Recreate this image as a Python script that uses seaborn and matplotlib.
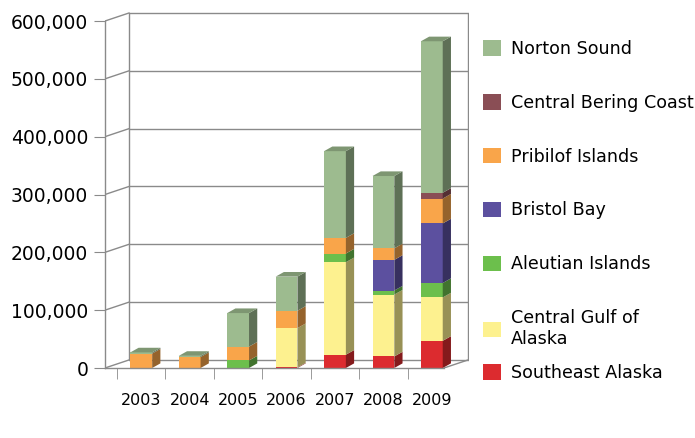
import numpy as np
import pandas as pd
import matplotlib
matplotlib.use("Agg")
import matplotlib.pyplot as plt
import matplotlib.colors as mcolors
from matplotlib.patches import Patch
from matplotlib.ticker import FuncFormatter
import seaborn as sns

# data (values per year, bottom to top of each stack)
years = ["2003", "2004", "2005", "2006", "2007", "2008", "2009"]
series = ["Southeast Alaska", "Central Gulf of Alaska", "Aleutian Islands", "Bristol Bay",
          "Pribilof Islands", "Central Bering Coast", "Norton Sound"]
southeast_alaska = [0, 0, 0, 1000, 23000, 20000, 47000]
central_gulf = [0, 0, 0, 68000, 160000, 107000, 75000]
aleutian_islands = [0, 0, 13000, 0, 15000, 7000, 25000]
bristol_bay = [0, 0, 0, 0, 0, 53000, 103000]
pribilof_islands = [25000, 19000, 24000, 30000, 27000, 20000, 43000]
central_bering = [0, 0, 0, 0, 0, 0, 10000]
norton_sound = [2000, 2000, 58000, 59000, 150000, 125000, 262000]
legend_labels = ["Norton Sound", "Central Bering Coast", "Pribilof Islands", "Bristol Bay",
                 "Aleutian Islands", "Central Gulf of\nAlaska", "Southeast Alaska"]

values = [southeast_alaska, central_gulf, aleutian_islands, bristol_bay,
          pribilof_islands, central_bering, norton_sound]
colors = ["#DC2B2F", "#FDF18F", "#6CBF4C", "#5C509F", "#F9A54A", "#8A4E55", "#9DBB8F"]

rows = []
for name, vals in zip(series, values):
    for y, v in zip(years, vals):
        rows.append({"year": y, "series": name, "value": v})
df = pd.DataFrame(rows)
df["bottom"] = df.groupby("year")["value"].cumsum() - df["value"]
df["top"] = df["bottom"] + df["value"]

# geometry of the fake 3d look
bar_w = 0.45
dx, dy = 0.17, 8000        # bar depth
wx, wy = 0.5, 14000        # wall depth
x_left, x_right = -0.75, 6.75

fig = plt.figure(figsize=(6.95, 4.38), dpi=100)
ax = fig.add_axes([0.151, 0.1598, 0.524, 0.812])
sns.set_style("white")
plt.rcParams["font.family"] = ["DejaVu Sans"]

grid_col = "#8a8a8a"
ticks = np.arange(0, 600001, 100000)

# walls and gridlines
for t in ticks:
    ax.plot([x_left + wx, x_right], [t + wy, t + wy], color=grid_col, lw=1, zorder=0.5)
    ax.plot([x_left, x_left + wx], [t, t + wy], color=grid_col, lw=1, zorder=0.5)
ax.plot([x_left + wx, x_left + wx], [wy, 600000 + wy], color=grid_col, lw=1, zorder=0.5)
ax.plot([x_right, x_right], [wy, 600000 + wy], color=grid_col, lw=1, zorder=0.5)
ax.plot([x_right - wx, x_right], [0, wy], color=grid_col, lw=1, zorder=0.5)

# stacked bars: draw cumulative heights from the top series down
for name, col in reversed(list(zip(series, colors))):
    sub = df[df["series"] == name]
    sns.barplot(data=sub, x="year", y="top", order=years, color=col, saturation=1,
                width=bar_w, errorbar=None, linewidth=0, ax=ax, zorder=1)

# side and top faces
for i, y in enumerate(years):
    sub = df[(df["year"] == y) & (df["value"] > 0)]
    for _, r in sub.iterrows():
        col = np.array(mcolors.to_rgb(colors[series.index(r["series"])]))
        xr = i + bar_w / 2
        ax.fill([xr, xr + dx, xr + dx, xr], [r["bottom"], r["bottom"] + dy, r["top"] + dy, r["top"]],
                color=col * 0.6, lw=0, zorder=1.5)
    if len(sub):
        r = sub.iloc[-1]
        col = np.array(mcolors.to_rgb(colors[series.index(r["series"])]))
        xl = i - bar_w / 2
        xr = i + bar_w / 2
        ax.fill([xl, xr, xr + dx, xl + dx], [r["top"], r["top"], r["top"] + dy, r["top"] + dy],
                color=col * 0.8, lw=0, zorder=1.5)

ax.set_xlim(x_left, x_right + 0.02)
ax.set_ylim(0, 615000)
ax.set_xlabel("")
ax.set_ylabel("")
for s in ["top", "right"]:
    ax.spines[s].set_visible(False)
ax.spines["left"].set_bounds(0, 600000)
ax.spines["bottom"].set_bounds(x_left, x_right - wx)
for s in ["left", "bottom"]:
    ax.spines[s].set_color(grid_col)
    ax.spines[s].set_linewidth(1)

ax.set_yticks(ticks)
ax.yaxis.set_major_formatter(FuncFormatter(lambda v, p: f"{int(v):,}"))
ax.tick_params(axis="y", length=8, color=grid_col, labelsize=13.5, pad=4, labelcolor="black")
ax.set_xticks(np.arange(-0.5, 6.5, 1), minor=True)
ax.tick_params(axis="x", which="major", length=0, labelsize=11.5, pad=18, labelcolor="black")
ax.tick_params(axis="x", which="minor", length=8, color=grid_col)

# legend: the last entry goes in its own box so the two-line label does not push it down
handles = [Patch(facecolor=c, edgecolor="none") for c in reversed(colors)]
leg_kw = dict(loc="upper left", frameon=False, fontsize=12.6, labelspacing=2.05,
              handlelength=1.0, handleheight=1.0, handletextpad=0.6, borderaxespad=0,
              labelcolor="black")
leg1 = fig.legend(handles[:-1], legend_labels[:-1], bbox_to_anchor=(0.685, 0.925), **leg_kw)
fig.legend(handles[-1:], legend_labels[-1:], bbox_to_anchor=(0.685, 0.185), **leg_kw)

fig.savefig("out.png", dpi=100)
